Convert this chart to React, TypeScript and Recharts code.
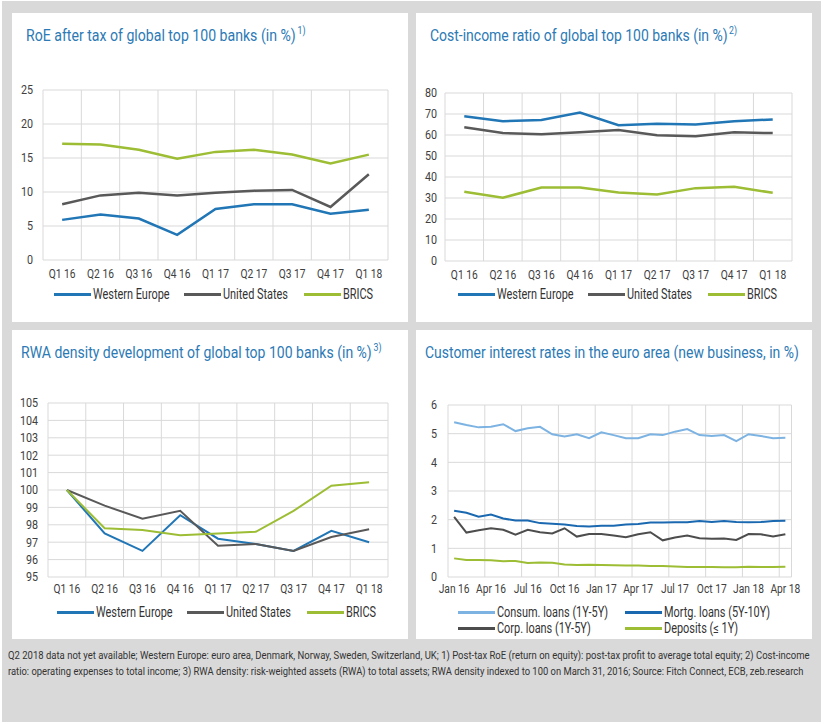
import React, { useLayoutEffect, useRef, useState } from 'react';
import { LineChart, Line, XAxis, YAxis, CartesianGrid, Legend } from 'recharts';

const FONT = "Roboto, 'Liberation Sans', 'DejaVu Sans', sans-serif";

// ---------- data ----------
const quarters = ['Q1 16', 'Q2 16', 'Q3 16', 'Q4 16', 'Q1 17', 'Q2 17', 'Q3 17', 'Q4 17', 'Q1 18'];

const roeWesternEurope = [5.9, 6.7, 6.1, 3.7, 7.5, 8.2, 8.2, 6.8, 7.4];
const roeUnitedStates = [8.2, 9.5, 9.9, 9.5, 9.9, 10.2, 10.3, 7.8, 12.6];
const roeBrics = [17.1, 17.0, 16.2, 14.9, 15.9, 16.2, 15.5, 14.2, 15.5];

const cirWesternEurope = [68.9, 66.6, 67.2, 70.7, 64.7, 65.3, 65.0, 66.6, 67.4];
const cirUnitedStates = [63.7, 60.9, 60.4, 61.3, 62.4, 59.9, 59.4, 61.3, 60.9];
const cirBrics = [33.0, 30.1, 35.0, 35.0, 32.6, 31.7, 34.7, 35.3, 32.5];

const rwaWesternEurope = [100.0, 97.5, 96.5, 98.55, 97.2, 96.9, 96.5, 97.65, 97.0];
const rwaUnitedStates = [100.0, 99.1, 98.35, 98.8, 96.8, 96.9, 96.5, 97.3, 97.75];
const rwaBrics = [100.0, 97.8, 97.7, 97.4, 97.5, 97.6, 98.8, 100.25, 100.45];

const months = [
  'Jan 16', 'Feb 16', 'Mar 16', 'Apr 16', 'May 16', 'Jun 16', 'Jul 16', 'Aug 16', 'Sep 16', 'Oct 16', 'Nov 16', 'Dec 16',
  'Jan 17', 'Feb 17', 'Mar 17', 'Apr 17', 'May 17', 'Jun 17', 'Jul 17', 'Aug 17', 'Sep 17', 'Oct 17', 'Nov 17', 'Dec 17',
  'Jan 18', 'Feb 18', 'Mar 18', 'Apr 18',
];
const consumLoans = [5.40, 5.30, 5.22, 5.24, 5.33, 5.09, 5.19, 5.24, 4.98, 4.90, 4.98, 4.84, 5.05, 4.95, 4.84, 4.84, 4.98, 4.95, 5.07, 5.16, 4.95, 4.92, 4.95, 4.74, 4.98, 4.92, 4.84, 4.86];
const mortgLoans = [2.31, 2.24, 2.10, 2.18, 2.04, 1.97, 1.97, 1.88, 1.86, 1.83, 1.78, 1.76, 1.79, 1.79, 1.83, 1.85, 1.90, 1.90, 1.91, 1.91, 1.95, 1.92, 1.95, 1.92, 1.91, 1.92, 1.95, 1.96];
const corpLoans = [2.10, 1.55, 1.63, 1.70, 1.65, 1.48, 1.65, 1.56, 1.52, 1.70, 1.41, 1.50, 1.50, 1.45, 1.39, 1.49, 1.56, 1.28, 1.38, 1.45, 1.35, 1.33, 1.34, 1.29, 1.50, 1.49, 1.41, 1.49];
const deposits = [0.65, 0.59, 0.59, 0.58, 0.55, 0.56, 0.49, 0.51, 0.50, 0.44, 0.42, 0.43, 0.42, 0.41, 0.40, 0.40, 0.38, 0.38, 0.37, 0.35, 0.35, 0.35, 0.34, 0.34, 0.36, 0.35, 0.35, 0.36];

const roeTicks = [0, 5, 10, 15, 20, 25];
const cirTicks = [0, 10, 20, 30, 40, 50, 60, 70, 80];
const rwaTicks = [95, 96, 97, 98, 99, 100, 101, 102, 103, 104, 105];
const rateTicks = [0, 1, 2, 3, 4, 5, 6];

const roeData = quarters.map((q, i) => ({ cat: q, a: roeWesternEurope[i], b: roeUnitedStates[i], c: roeBrics[i] }));
const cirData = quarters.map((q, i) => ({ cat: q, a: cirWesternEurope[i], b: cirUnitedStates[i], c: cirBrics[i] }));
const rwaData = quarters.map((q, i) => ({ cat: q, a: rwaWesternEurope[i], b: rwaUnitedStates[i], c: rwaBrics[i] }));
const rateData = months.map((m, i) => ({ cat: m, a: consumLoans[i], b: mortgLoans[i], c: corpLoans[i], d: deposits[i] }));

const footnoteLine1 =
  'Q2 2018 data not yet available; Western Europe: euro area, Denmark, Norway, Sweden, Switzerland, UK; 1) Post-tax RoE (return on equity): post-tax profit to average total equity; 2) Cost-income';
const footnoteLine2 =
  'ratio: operating expenses to total income; 3) RWA density: risk-weighted assets (RWA) to total assets; RWA density indexed to 100 on March 31, 2016; Source: Fitch Connect, ECB, zeb.research';

// ---------- styles ----------
const BLUE = '#2176b6';
const GRAY = '#595959';
const GREEN = '#9cbd34';
const LIGHTBLUE = '#7db3e2';
const DARKBLUE = '#1a68b0';
const CORPGRAY = '#4d4d4d';
const TITLE = '#2c7ab5';
const GRID = '#d9d9d9';
const TICK = '#404040';

type S = { key: string; name: string; color: string; width: number };
type LegItem = { name: string; color: string; left: number; top: number };

const PANEL_W = 396;
const PANEL_H = 309;

// SVG text horizontally compressed (via transform) to a target width, like a condensed face.
function FitText({ x, y, width, children, fontSize, fill }: any) {
  const ref = useRef<SVGTextElement>(null);
  const [s, setS] = useState(1);
  useLayoutEffect(() => {
    const el = ref.current;
    if (el) {
      const len = el.getComputedTextLength();
      if (len > 0) setS(width / len);
    }
  }, [width, children]);
  return (
    <text ref={ref} x={0} y={0} transform={`translate(${x},${y}) scale(${s},1)`} fontFamily={FONT} fontSize={fontSize} fill={fill}>
      {children}
    </text>
  );
}

function CondTick(props: any) {
  const { x, y, payload, textAnchor, sx, dy } = props;
  return (
    <text
      x={0}
      y={0}
      dy={dy}
      transform={`translate(${x},${y}) scale(${sx},1)`}
      textAnchor={textAnchor}
      fill={TICK}
      fontSize={12.5}
      fontFamily={FONT}
    >
      {payload.value}
    </text>
  );
}

function LegendBox({ items }: { items: LegItem[] }) {
  return (
    <div style={{ position: 'relative', width: PANEL_W, height: 40 }}>
      {items.map((it) => (
        <div key={it.name} style={{ position: 'absolute', left: it.left, top: it.top, display: 'flex', alignItems: 'center', whiteSpace: 'nowrap' }}>
          <div style={{ width: 37, height: 3, background: it.color }} />
          <span
            style={{
              marginLeft: 2,
              display: 'inline-block',
              transform: 'scaleX(0.78)',
              transformOrigin: 'left center',
              fontFamily: FONT,
              fontSize: 14,
              color: '#333',
              lineHeight: '16px',
            }}
          >
            {it.name}
          </span>
        </div>
      ))}
    </div>
  );
}

type ChartProps = {
  data: any[];
  series: S[];
  ticks: number[];
  domain: [number, number];
  plot: { left: number; top: number; right: number; bottom: number };
  boundaries: number[];
  nCats: number;
  interval?: number;
  legend: LegItem[];
  legendTop: number;
  xLabelGap: number;
  yLabelGap: number;
};

function PanelChart(p: ChartProps) {
  const plotW = p.plot.right - p.plot.left;
  const half = plotW / (2 * p.nCats);
  const xAxisH = 30;
  return (
    <LineChart
      width={PANEL_W}
      height={PANEL_H}
      data={p.data}
      margin={{ top: p.plot.top, right: PANEL_W - p.plot.right, left: 0, bottom: PANEL_H - p.plot.bottom - xAxisH }}
    >
      <CartesianGrid
        stroke={GRID}
        strokeWidth={1}
        verticalCoordinatesGenerator={({ offset }: any) =>
          p.boundaries.map((i) => offset.left + (offset.width * i) / p.nCats)
        }
      />
      <XAxis
        dataKey="cat"
        type="category"
        padding={{ left: half, right: half }}
        axisLine={false}
        tickLine={false}
        tickSize={0}
        tickMargin={p.xLabelGap}
        height={xAxisH}
        interval={p.interval ?? 0}
        tick={<CondTick sx={0.82} dy="0.71em" />}
      />
      <YAxis
        type="number"
        domain={p.domain}
        ticks={p.ticks}
        width={p.plot.left}
        axisLine={false}
        tickLine={false}
        tickSize={0}
        tickMargin={p.yLabelGap}
        interval={0}
        allowDataOverflow
        tick={<CondTick sx={0.86} dy="0.355em" />}
      />
      <Legend
        layout="horizontal"
        verticalAlign="middle"
        align="center"
        wrapperStyle={{ top: p.legendTop, left: 0, width: PANEL_W, height: 40 }}
        content={() => <LegendBox items={p.legend} />}
      />
      {p.series.map((s) => (
        <Line
          key={s.key}
          type="linear"
          dataKey={s.key}
          name={s.name}
          stroke={s.color}
          strokeWidth={s.width}
          dot={false}
          activeDot={false}
          isAnimationActive={false}
        />
      ))}
    </LineChart>
  );
}

function Panel({ x, y, title, titleLeft, titleWidth, sup, supLeft, children }: any) {
  return (
    <div style={{ position: 'absolute', left: x, top: y, width: PANEL_W, height: PANEL_H, background: '#fff' }}>
      <div style={{ position: 'absolute', left: 0, top: 0 }}>{children}</div>
      <svg style={{ position: 'absolute', left: 0, top: 0 }} width={PANEL_W} height={40}>
        <FitText x={titleLeft} y={28} width={titleWidth} fontSize={17} fill={TITLE}>
          {title}
        </FitText>
        {sup ? (
          <FitText x={supLeft} y={21} width={8} fontSize={11} fill={TITLE}>
            {sup}
          </FitText>
        ) : null}
      </svg>
    </div>
  );
}

const qBounds = [0, 1, 2, 3, 4, 5, 6, 7, 8, 9];
const mBounds = [0, 3, 6, 9, 12, 15, 18, 21, 24, 27, 28];

const threeLegend = (dx: number): LegItem[] => [
  { name: 'Western Europe', color: BLUE, left: 42 + dx, top: 0 },
  { name: 'United States', color: GRAY, left: 172 + dx, top: 0 },
  { name: 'BRICS', color: GREEN, left: 292 + dx, top: 0 },
];

export default function App() {
  return (
    <div style={{ position: 'absolute', left: 0, top: 0, width: 825, height: 724, background: '#fff' }}>
      <div style={{ position: 'absolute', left: 2, top: 1, width: 819, height: 721, background: '#d9d9d9' }} />

      <Panel x={12} y={13} title="RoE after tax of global top 100 banks (in %)" titleLeft={14} titleWidth={270} sup="1)" supLeft={285.5}>
        <PanelChart
          data={roeData}
          series={[
            { key: 'a', name: 'Western Europe', color: BLUE, width: 2.5 },
            { key: 'b', name: 'United States', color: GRAY, width: 2.5 },
            { key: 'c', name: 'BRICS', color: GREEN, width: 2.5 },
          ]}
          ticks={roeTicks}
          domain={[0, 25]}
          plot={{ left: 31, top: 77, right: 376, bottom: 247 }}
          boundaries={qBounds}
          nCats={9}
          legend={threeLegend(0)}
          legendTop={273}
          xLabelGap={9}
          yLabelGap={10}
        />
      </Panel>

      <Panel x={416} y={13} title="Cost-income ratio of global top 100 banks (in %)" titleLeft={14} titleWidth={298} sup="2)" supLeft={313}>
        <PanelChart
          data={cirData}
          series={[
            { key: 'a', name: 'Western Europe', color: BLUE, width: 2.5 },
            { key: 'b', name: 'United States', color: GRAY, width: 2.5 },
            { key: 'c', name: 'BRICS', color: GREEN, width: 2.5 },
          ]}
          ticks={cirTicks}
          domain={[0, 80]}
          plot={{ left: 29, top: 80, right: 376, bottom: 248 }}
          boundaries={qBounds}
          nCats={9}
          legend={threeLegend(0)}
          legendTop={273}
          xLabelGap={9}
          yLabelGap={8}
        />
      </Panel>

      <Panel x={12} y={330} title="RWA density development of global top 100 banks (in %)" titleLeft={9} titleWidth={351} sup="3)" supLeft={361.5}>
        <PanelChart
          data={rwaData}
          series={[
            { key: 'a', name: 'Western Europe', color: BLUE, width: 2 },
            { key: 'b', name: 'United States', color: GRAY, width: 2 },
            { key: 'c', name: 'BRICS', color: GREEN, width: 2 },
          ]}
          ticks={rwaTicks}
          domain={[95, 105]}
          plot={{ left: 36, top: 73, right: 376, bottom: 247 }}
          boundaries={qBounds}
          nCats={9}
          legend={threeLegend(3)}
          legendTop={274}
          xLabelGap={7}
          yLabelGap={10}
        />
      </Panel>

      <Panel x={416} y={330} title="Customer interest rates in the euro area (new business, in %)" titleLeft={9} titleWidth={374} sup="" supLeft={0}>
        <PanelChart
          data={rateData}
          series={[
            { key: 'a', name: 'Consum. loans (1Y-5Y)', color: LIGHTBLUE, width: 2 },
            { key: 'b', name: 'Mortg. loans (5Y-10Y)', color: DARKBLUE, width: 2 },
            { key: 'c', name: 'Corp. loans (1Y-5Y)', color: CORPGRAY, width: 2 },
            { key: 'd', name: 'Deposits (≤ 1Y)', color: GREEN, width: 2 },
          ]}
          ticks={rateTicks}
          domain={[0, 6]}
          plot={{ left: 32, top: 75, right: 375.5, bottom: 247 }}
          boundaries={mBounds}
          nCats={28}
          interval={2}
          legend={[
            { name: 'Consum. loans (1Y-5Y)', color: LIGHTBLUE, left: 42, top: 0 },
            { name: 'Mortg. loans (5Y-10Y)', color: DARKBLUE, left: 209, top: 0 },
            { name: 'Corp. loans (1Y-5Y)', color: CORPGRAY, left: 42, top: 16 },
            { name: 'Deposits (≤ 1Y)', color: GREEN, left: 209, top: 16 },
          ]}
          legendTop={274}
          xLabelGap={7}
          yLabelGap={11}
        />
      </Panel>

      <svg style={{ position: 'absolute', left: 0, top: 640 }} width={825} height={50}>
        <FitText x={8} y={19} width={802} fontSize={11.5} fill="#333">
          {footnoteLine1}
        </FitText>
        <FitText x={8} y={35} width={796} fontSize={11.5} fill="#333">
          {footnoteLine2}
        </FitText>
      </svg>
    </div>
  );
}
